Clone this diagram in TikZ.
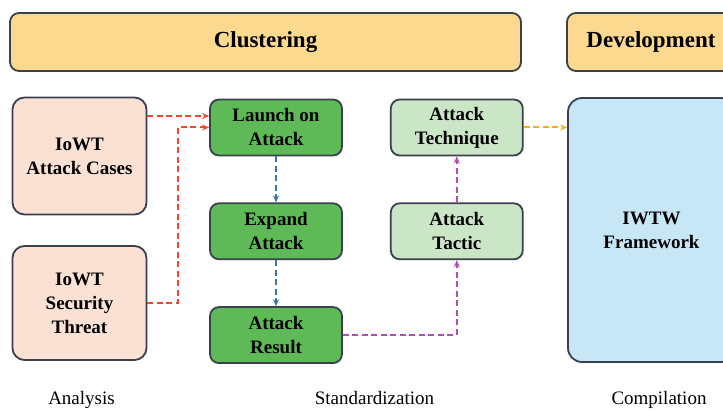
\documentclass[tikz,border=0pt]{standalone}
\usepackage{fontspec}
\setmainfont{Liberation Serif}
\usetikzlibrary{positioning,arrows.meta}

\definecolor{headfill}{RGB}{251,217,142}
\definecolor{peachfill}{RGB}{251,225,212}
\definecolor{darkgreen}{RGB}{94,186,86}
\definecolor{lightgreen}{RGB}{203,230,198}
\definecolor{lightblue}{RGB}{200,231,246}
\definecolor{edgegray}{RGB}{58,64,76}
\definecolor{redline}{RGB}{245,70,44}
\definecolor{blueline}{RGB}{60,117,174}
\definecolor{purpleline}{RGB}{178,78,184}
\definecolor{orangeline}{RGB}{247,172,30}

\tikzset{
  box/.style={draw=edgegray, line width=1.8pt, rounded corners=9pt, align=center,
    inner sep=0pt, font=\fontsize{19}{24}\selectfont\bfseries},
  headbox/.style={box, fill=headfill, minimum height=58pt,
    font=\fontsize{23}{28}\selectfont\bfseries},
  peachbox/.style={box, fill=peachfill, minimum width=134pt, rounded corners=12pt},
  greenbox/.style={box, fill=darkgreen, minimum width=132pt, minimum height=56pt},
  paleboxx/.style={box, fill=lightgreen, minimum width=132pt, minimum height=56pt},
  flowarrow/.style={line width=2pt, dash pattern=on 6pt off 3.5pt,
    -{Stealth[length=7pt,width=6pt]}},
  steplabel/.style={anchor=base, font=\fontsize{19}{23}\selectfont}
}

\begin{document}
\begin{tikzpicture}[x=1pt,y=-1pt]
\useasboundingbox (0,0) rectangle (723,411);

\node[headbox, minimum width=511pt] (cluster) at (265.5,42) {Clustering};
\node[headbox, minimum width=168pt] (develop) at (651,42) {Development};

\node[peachbox, minimum height=117pt] (cases) at (79.5,156) {IoWT\\Attack Cases};
\node[peachbox, minimum height=114pt] (threat) at (79.5,303) {IoWT\\Security\\Threat};

\node[greenbox] (launch) at (276,127.5) {Launch on\\Attack};
\node[greenbox, below=46pt of launch] (expand) {Expand\\Attack};
\node[greenbox, below=46pt of expand] (result) {Attack\\Result};

\node[paleboxx, right=47pt of launch] (technique) {Attack\\Technique};
\node[paleboxx, below=46pt of technique] (tactic) {Attack\\Tactic};

\node[box, fill=lightblue, minimum width=167pt, minimum height=264pt, rounded corners=14pt]
  (framework) at (651.5,230) {IWTW\\Framework};

\coordinate (in1) at ([yshift=11.5pt]launch.west);

\draw[flowarrow, redline] (cases.east |- in1) -- (in1);
\draw[flowarrow, redline] (threat.east) -- ++(31,0) |- (launch.west);
\draw[flowarrow, blueline] (launch) -- (expand);
\draw[flowarrow, blueline] (expand) -- (result);
\draw[flowarrow, purpleline] (result.east) -| (tactic.south);
\draw[flowarrow, purpleline] (tactic) -- (technique);
\draw[flowarrow, orangeline] (technique.east) -- (framework.west |- technique.east);

\node[steplabel] (analysis) at (81.5,405) {Analysis};
\node[steplabel] (standard) at (374.5,405) {Standardization};
\node[steplabel] (compile) at (659,405) {Compilation};
\end{tikzpicture}
\end{document}
